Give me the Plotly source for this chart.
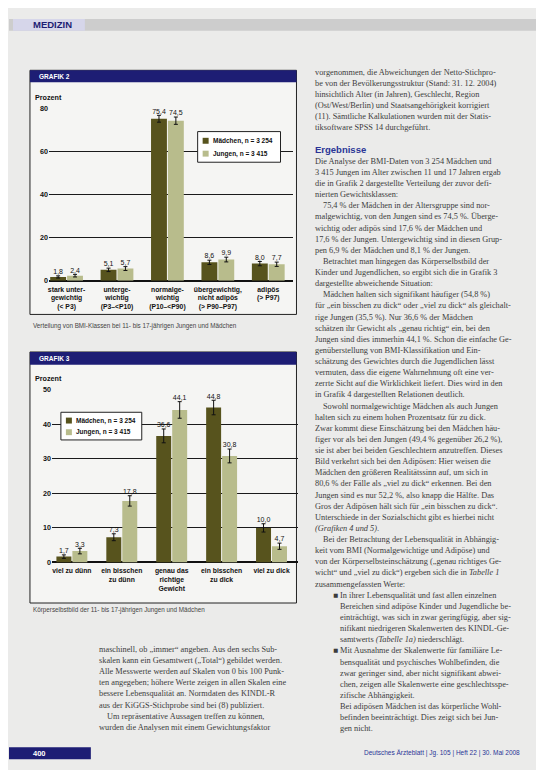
import plotly.graph_objects as go

W, H = 544, 770


def px(x):
    return x / W


def py(y):
    return 1 - y / H


# ---------------- data: Grafik 2 (BMI-Klassen) ----------------
bmi_categories = [
    "stark unter-<br>gewichtig<br>(< P3)",
    "unterge-<br>wichtig<br>(P3–<P10)",
    "normalge-<br>wichtig<br>(P10–<P90)",
    "übergewichtig,<br>nicht adipös<br>(> P90–P97)",
    "adipös<br>(> P97)",
]
bmi_maedchen = [1.8, 5.1, 75.4, 8.6, 8.0]
bmi_jungen = [2.4, 5.7, 74.5, 9.9, 7.7]
bmi_maedchen_err = [0.5, 0.8, 1.6, 1.0, 1.0]
bmi_jungen_err = [0.6, 0.9, 1.7, 1.1, 1.0]
bmi_ticks = [0, 20, 40, 60, 80]

# ---------------- data: Grafik 3 (Körperselbstbild) ----------------
selbst_categories = [
    "viel zu dünn",
    "ein bisschen<br>zu dünn",
    "genau das<br>richtige<br>Gewicht",
    "ein bisschen<br>zu dick",
    "viel zu dick",
]
selbst_maedchen = [1.7, 7.3, 36.6, 44.8, 10.0]
selbst_jungen = [3.3, 17.8, 44.1, 30.8, 4.7]
selbst_maedchen_err = [0.5, 1.0, 2.0, 2.1, 1.2]
selbst_jungen_err = [0.8, 1.5, 2.4, 2.0, 0.9]
selbst_ticks = [0, 10, 20, 30, 40, 50]

legend_labels = ["Mädchen, n = 3 254", "Jungen, n = 3 415"]

# ---------------- styles ----------------
C_M = "#57531d"
C_J = "#b8bc8c"
NAVY = "#1d1d74"
SANS = "Liberation Sans Narrow, Arial Narrow, Liberation Sans, Arial, sans-serif"
SERIF = "Liberation Serif, Times New Roman, serif"
BG = "#ebebea"
PANEL = "#f5f5f3"


def fmt(v):
    return f"{v:.1f}".replace(".", ",")


fig = go.Figure()


def add_chart(xa, ya, maed, jung, em, ej, width, off_m, off_j):
    xs = list(range(len(maed)))
    fig.add_trace(go.Bar(
        x=xs, y=maed, width=width, offset=off_m, marker=dict(color=C_M, line=dict(width=0)),
        error_y=dict(type="data", array=em, color="#111", thickness=1, width=2),
        xaxis=xa, yaxis=ya, showlegend=False, hoverinfo="skip"))
    fig.add_trace(go.Bar(
        x=xs, y=jung, width=width, offset=off_j, marker=dict(color=C_J, line=dict(width=0)),
        error_y=dict(type="data", array=ej, color="#111", thickness=1, width=2),
        xaxis=xa, yaxis=ya, showlegend=False, hoverinfo="skip"))
    fig.add_trace(go.Scatter(
        x=[i + off_m + width / 2 for i in xs], y=[v + e for v, e in zip(maed, em)],
        text=[fmt(v) for v in maed], mode="text", textposition="top center",
        textfont=dict(size=7, family=SANS, color="#111"), cliponaxis=False,
        xaxis=xa, yaxis=ya, showlegend=False, hoverinfo="skip"))
    fig.add_trace(go.Scatter(
        x=[i + off_j + width / 2 for i in xs], y=[v + e for v, e in zip(jung, ej)],
        text=[fmt(v) for v in jung], mode="text", textposition="top center",
        textfont=dict(size=7, family=SANS, color="#111"), cliponaxis=False,
        xaxis=xa, yaxis=ya, showlegend=False, hoverinfo="skip"))


add_chart("x", "y", bmi_maedchen, bmi_jungen, bmi_maedchen_err, bmi_jungen_err, 0.315, -0.325, 0.01)
add_chart("x2", "y2", selbst_maedchen, selbst_jungen, selbst_maedchen_err, selbst_jungen_err, 0.3, -0.31, 0.01)

axis_font = dict(size=6.8, family=SANS, color="#111", weight="bold")
ytick_font = dict(size=7.2, family=SANS, color="#111", weight="bold")

fig.update_layout(
    width=W, height=H, autosize=False,
    margin=dict(l=0, r=0, t=0, b=0),
    paper_bgcolor=BG, plot_bgcolor="rgba(0,0,0,0)",
    barmode="overlay", showlegend=False,
    xaxis=dict(domain=[px(40), px(285)], range=[-0.35, 4.5], tickvals=list(range(5)),
               ticktext=bmi_categories, tickfont=axis_font, showgrid=False, zeroline=False,
               showline=False, ticks="", anchor="y", fixedrange=True, ticklabelstandoff=3),
    yaxis=dict(domain=[py(272), py(98)], range=[0, 80], tickvals=bmi_ticks, tickfont=ytick_font,
               showgrid=True, gridcolor="#1a1a1a", gridwidth=1, zeroline=True,
               zerolinecolor="#111", zerolinewidth=1.5, showline=False, ticks="",
               anchor="x", fixedrange=True),
    xaxis2=dict(domain=[px(43), px(290)], range=[-0.4, 4.54], tickvals=list(range(5)),
                ticktext=selbst_categories, tickfont=axis_font, showgrid=False, zeroline=False,
                showline=False, ticks="", anchor="y2", fixedrange=True, ticklabelstandoff=3),
    yaxis2=dict(domain=[py(557), py(382)], range=[0, 50], tickvals=selbst_ticks, tickfont=ytick_font,
                showgrid=True, gridcolor="#1a1a1a", gridwidth=1, zeroline=True,
                zerolinecolor="#111", zerolinewidth=1.5, showline=False, ticks="",
                anchor="x2", fixedrange=True),
)

shapes = []
annos = []


def rect(x0, y0, x1, y1, fill, line=None, lw=0, layer="below"):
    shapes.append(dict(type="rect", xref="paper", yref="paper", x0=px(x0), x1=px(x1),
                       y0=py(y1), y1=py(y0), fillcolor=fill,
                       line=dict(color=line or fill, width=lw), layer=layer))


def text(x, y, s, size=8, color="#333", family=SANS, weight="normal", anchor="left"):
    annos.append(dict(x=px(x), y=py(y), xref="paper", yref="paper", text=s, showarrow=False,
                      xanchor=anchor, yanchor="middle",
                      font=dict(size=size, color=color, family=family, weight=weight)))


# top band
rect(0, 7, 544, 19, "#cdcdcd")
rect(4, 7, 76, 19, "#d6d6ea")
text(22, 13, "MEDIZIN", size=9.5, color=NAVY, family="Liberation Sans, Arial", weight="bold")

# chart panels
rect(21, 59, 288, 306, PANEL, "#222", 1)
rect(21, 59, 288, 71, NAVY)
text(28, 65, "GRAFIK 2", size=6.5, color="white", family="Liberation Sans, Arial", weight="bold")
text(24, 87, "Prozent", size=7.2, color="#111", weight="bold")
text(22, 318, "Verteilung von BMI-Klassen bei 11- bis 17-jährigen Jungen und Mädchen",
     size=6.3, color="#444", family="Liberation Sans, Arial")

rect(21, 344, 288, 598, PANEL, "#222", 1)
rect(21, 344, 288, 357, NAVY)
text(28, 351, "GRAFIK 3", size=6.5, color="white", family="Liberation Sans, Arial", weight="bold")
text(24, 371, "Prozent", size=7.2, color="#111", weight="bold")
text(22, 605, "Körperselbstbild der 11- bis 17-jährigen Jungen und Mädchen",
     size=6.3, color="#444", family="Liberation Sans, Arial")


# legends (manual boxes)
def legend_box(x0, y0, x1, y1):
    rect(x0, y0, x1, y1, "white", "#222", 1, layer="above")
    ys = [y0 + (y1 - y0) * 0.3, y0 + (y1 - y0) * 0.72]
    for yy, col, lab in zip(ys, [C_M, C_J], legend_labels):
        rect(x0 + 5, yy - 3, x0 + 11, yy + 3, col, layer="above")
        text(x0 + 13, yy, lab, size=6.5, color="#111", weight="bold")


legend_box(189, 121, 272, 152)
legend_box(52, 405, 133, 433)

# right column text
right_top = [
    (0, "vorgenommen, die Abweichungen der Netto-Stichpro-"),
    (0, "be von der Bevölkerungsstruktur (Stand: 31. 12. 2004)"),
    (0, "hinsichtlich Alter (in Jahren), Geschlecht, Region"),
    (0, "(Ost/West/Berlin) und Staatsangehörigkeit korrigiert"),
    (0, "(11). Sämtliche Kalkulationen wurden mit der Statis-"),
    (0, "tiksoftware SPSS 14 durchgeführt."),
]
right_main = [
    (0, "Die Analyse der BMI-Daten von 3 254 Mädchen und"),
    (0, "3 415 Jungen im Alter zwischen 11 und 17 Jahren ergab"),
    (0, "die in Grafik 2 dargestellte Verteilung der zuvor defi-"),
    (0, "nierten Gewichtsklassen:"),
    (8, "75,4 % der Mädchen in der Altersgruppe sind nor-"),
    (0, "malgewichtig, von den Jungen sind es 74,5 %. Überge-"),
    (0, "wichtig oder adipös sind 17,6 % der Mädchen und"),
    (0, "17,6 % der Jungen. Untergewichtig sind in diesen Grup-"),
    (0, "pen 6,9 % der Mädchen und 8,1 % der Jungen."),
    (8, "Betrachtet man hingegen das Körperselbstbild der"),
    (0, "Kinder und Jugendlichen, so ergibt sich die in Grafik 3"),
    (0, "dargestellte abweichende Situation:"),
    (8, "Mädchen halten sich signifikant häufiger (54,8 %)"),
    (0, "für „ein bisschen zu dick“ oder „viel zu dick“ als gleichalt-"),
    (0, "rige Jungen (35,5 %). Nur 36,6 % der Mädchen"),
    (0, "schätzen ihr Gewicht als „genau richtig“ ein, bei den"),
    (0, "Jungen sind dies immerhin 44,1 %. Schon die einfache Ge-"),
    (0, "genüberstellung von BMI-Klassifikation und Ein-"),
    (0, "schätzung des Gewichtes durch die Jugendlichen lässt"),
    (0, "vermuten, dass die eigene Wahrnehmung oft eine ver-"),
    (0, "zerrte Sicht auf die Wirklichkeit liefert. Dies wird in den"),
    (0, "in Grafik 4 dargestellten Relationen deutlich."),
    (8, "Sowohl normalgewichtige Mädchen als auch Jungen"),
    (0, "halten sich zu einem hohen Prozentsatz für zu dick."),
    (0, "Zwar kommt diese Einschätzung bei den Mädchen häu-"),
    (0, "figer vor als bei den Jungen (49,4 % gegenüber 26,2 %),"),
    (0, "sie ist aber bei beiden Geschlechtern anzutreffen. Dieses"),
    (0, "Bild verkehrt sich bei den Adipösen: Hier weisen die"),
    (0, "Mädchen den größeren Realitätssinn auf, um sich in"),
    (0, "80,6 % der Fälle als „viel zu dick“ erkennen. Bei den"),
    (0, "Jungen sind es nur 52,2 %, also knapp die Hälfte. Das"),
    (0, "Gros der Adipösen hält sich für „ein bisschen zu dick“."),
    (0, "Unterschiede in der Sozialschicht gibt es hierbei nicht"),
    (0, "<i>(Grafiken 4 und 5)</i>."),
    (8, "Bei der Betrachtung der Lebensqualität in Abhängig-"),
    (0, "keit vom BMI (Normalgewichtige und Adipöse) und"),
    (0, "von der Körperselbsteinschätzung („genau richtiges Ge-"),
    (0, "wicht“ und „viel zu dick“) ergeben sich die in <i>Tabelle 1</i>"),
    (0, "zusammengefassten Werte:"),
    (18, "■ In ihrer Lebensqualität und fast allen einzelnen"),
    (25, "Bereichen sind adipöse Kinder und Jugendliche be-"),
    (25, "einträchtigt, was sich in zwar geringfügig, aber sig-"),
    (25, "nifikant niedrigeren Skalenwerten des KINDL-Ge-"),
    (25, "samtwerts <i>(Tabelle 1a)</i> niederschlägt."),
    (18, "■ Mit Ausnahme der Skalenwerte für familiäre Le-"),
    (25, "bensqualität und psychisches Wohlbefinden, die"),
    (25, "zwar geringer sind, aber nicht signifikant abwei-"),
    (25, "chen, zeigen alle Skalenwerte eine geschlechtsspe-"),
    (25, "zifische Abhängigkeit."),
    (25, "Bei adipösen Mädchen ist das körperliche Wohl-"),
    (25, "befinden beeinträchtigt. Dies zeigt sich bei Jun-"),
    (25, "gen nicht."),
]
LS = 11.26
for i, (ind, s) in enumerate(right_top):
    text(305 + ind, 61 + i * LS, s, size=8.3, color="#3c3c3c", family=SERIF)
text(305, 139, "Ergebnisse", size=9.5, color="#2a3596", family="Liberation Sans, Arial", weight="bold")
for i, (ind, s) in enumerate(right_main):
    text(305 + ind, 151 + i * LS, s, size=8.3, color="#3c3c3c", family=SERIF)

left_bottom = [
    (0, "maschinell, ob „immer“ angeben. Aus den sechs Sub-"),
    (0, "skalen kann ein Gesamtwert („Total“) gebildet werden."),
    (0, "Alle Messwerte werden auf Skalen von 0 bis 100 Punk-"),
    (0, "ten angegeben; höhere Werte zeigen in allen Skalen eine"),
    (0, "bessere Lebensqualität an. Normdaten des KINDL-R"),
    (0, "aus der KiGGS-Stichprobe sind bei (8) publiziert."),
    (8, "Um repräsentative Aussagen treffen zu können,"),
    (0, "wurden die Analysen mit einem Gewichtungsfaktor"),
]
for i, (ind, s) in enumerate(left_bottom):
    text(88 + ind, 645 + i * LS, s, size=8.3, color="#3c3c3c", family=SERIF)

# footer
rect(0, 744, 82, 756, NAVY)
text(22, 750, "400", size=7.5, color="white", family="Liberation Sans, Arial", weight="bold")
text(514, 750, "Deutsches Ärzteblatt | Jg. 105 | Heft 22 | 30. Mai 2008", size=6.5,
     color="#2a3596", family="Liberation Sans, Arial", anchor="right")

fig.update_layout(shapes=shapes, annotations=annos, separators=",.")

fig.write_html("out.html")
